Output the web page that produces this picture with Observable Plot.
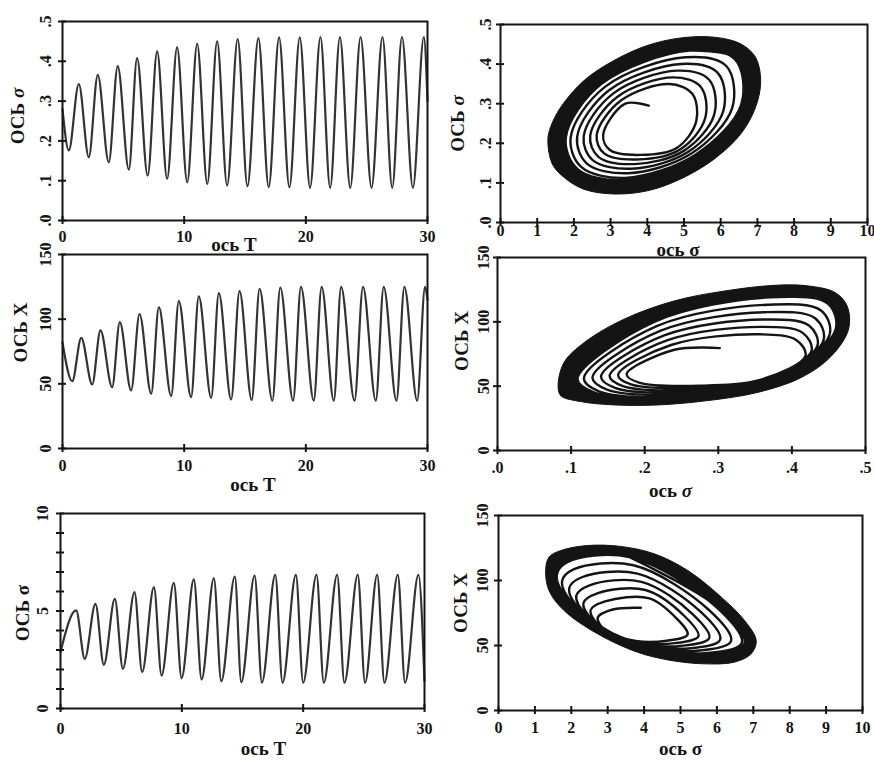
<!DOCTYPE html>
<html><head><meta charset="utf-8">
<script src="https://cdn.jsdelivr.net/npm/d3@7"></script>
<script src="https://cdn.jsdelivr.net/npm/@observablehq/plot@0.6"></script>
<style>
body{margin:0;background:#fff;}
#chart{position:relative;width:874px;height:760px;background:#fff;}
.panel{position:absolute;}
.panel svg{overflow:visible;}
</style></head><body><div id="chart"></div>
<script>
// ---------- time series (extrema) ----------
const tsT1 = [0,0.52,1.34,2.16,2.90,3.80,4.54,5.45,6.13,7.0,7.78,8.6,9.42,10.25,11.07,11.9,12.71,13.53,14.4,15.2,16.1,16.95,17.8,18.65,19.5,20.35,21.2,22.0,22.8,23.65,24.5,25.4,26.3,27.1,27.9,28.8,29.7,30];
const tsSigma = [0.28,0.176,0.343,0.159,0.366,0.146,0.388,0.128,0.408,0.113,0.425,0.105,0.435,0.096,0.444,0.092,0.45,0.088,0.456,0.086,0.458,0.084,0.46,0.083,0.46,0.082,0.461,0.082,0.461,0.082,0.461,0.082,0.461,0.082,0.461,0.082,0.461,0.30];

const tsT2 = [0,0.8,1.54,2.44,3.12,4.08,4.71,5.64,6.33,7.29,7.92,8.93,9.56,10.57,11.2,12.22,12.85,13.86,14.55,15.55,16.2,17.25,17.9,18.95,19.6,20.65,21.3,22.3,22.9,24.0,24.7,25.75,26.4,27.45,28.1,29.15,29.8,30];
const tsX = [82,52,85.6,49.5,91.3,47.4,97.7,44.9,104,42.3,109.3,40.5,114,39.7,117.6,39.2,120.1,37.9,121.7,37.5,123.5,37,124.5,37,125,37,125,37,125,37,125,37,125,37,125,37,125,115];

const tsT3 = [0,1.29,2.0,2.88,3.57,4.48,5.14,6.1,6.73,7.7,8.33,9.34,9.98,10.99,11.63,12.64,13.25,14.37,14.9,16.0,16.6,17.7,18.3,19.4,20.0,21.1,21.7,22.8,23.4,24.5,25.1,26.1,26.7,27.8,28.4,29.5,30];
const tsS = [2.9,5.03,2.55,5.37,2.24,5.62,2.03,5.97,1.86,6.22,1.69,6.44,1.56,6.62,1.49,6.68,1.4,6.77,1.35,6.82,1.33,6.85,1.32,6.85,1.32,6.86,1.32,6.86,1.32,6.86,1.32,6.86,1.32,6.86,1.32,6.86,1.4];

// ---------- phase portraits: spiral turns, 8 points per turn [UL,L,LL,B,LR,R,UR,T]; last row = inner edge of the black band ----------
// top right: x = bold sigma, y = sigma
const trStart = [4.04, 0.295];
const trTurnX = [
 [3.40,2.798,2.981,3.818,4.801,5.333,5.225,4.597],
 [3.289,2.621,2.824,3.733,4.903,5.578,5.458,4.707],
 [3.179,2.444,2.668,3.648,5.005,5.823,5.691,4.818],
 [3.068,2.267,2.511,3.563,5.107,6.068,5.924,4.929],
 [2.957,2.090,2.354,3.478,5.210,6.314,6.158,5.039],
 [2.847,1.913,2.198,3.393,5.312,6.559,6.391,5.15],
 [2.75,1.78,2.10,3.35,5.35,6.62,6.42,5.15]];
const trTurnY = [
 [0.300,0.222,0.1829,0.1707,0.1883,0.2553,0.325,0.3497],
 [0.3085,0.221,0.1744,0.1591,0.1849,0.2638,0.3424,0.3666],
 [0.317,0.2195,0.1659,0.1475,0.1815,0.2723,0.3597,0.3835],
 [0.3255,0.2183,0.1573,0.1359,0.1781,0.2809,0.3771,0.4003],
 [0.334,0.2171,0.1488,0.1244,0.1747,0.2894,0.3945,0.4172],
 [0.3426,0.2159,0.1403,0.1128,0.1713,0.2979,0.4118,0.434],
 [0.350,0.215,0.135,0.107,0.170,0.300,0.414,0.434]];
const trOuterX = [1.29,1.41,1.73,2.27,3.09,4.0,4.91,5.82,6.55,6.95,7.09,6.95,6.55,5.82,4.91,4.0,3.09,2.27,1.64,1.36];
const trOuterY = [0.207,0.148,0.114,0.084,0.072,0.080,0.110,0.160,0.224,0.291,0.358,0.417,0.451,0.468,0.466,0.447,0.409,0.358,0.291,0.240];

// middle right: x = sigma, y = X
const mrStart = [0.302, 79.6];
const mrTurnX = [
 [0.2405,0.1755,0.1923,0.2753,0.3593,0.4185,0.4063,0.3564],
 [0.2358,0.1639,0.1814,0.2707,0.3600,0.4266,0.4147,0.3591],
 [0.2311,0.1523,0.1705,0.2661,0.3607,0.4347,0.4232,0.3618],
 [0.2265,0.1407,0.1596,0.2615,0.3614,0.4428,0.4316,0.3646],
 [0.2218,0.1290,0.1487,0.2569,0.3621,0.4509,0.4400,0.3673],
 [0.2171,0.1174,0.1378,0.2523,0.3627,0.4590,0.4484,0.3700],
 [0.213,0.1087,0.131,0.250,0.363,0.461,0.4495,0.370]];
const mrTurnY = [
 [78.3,59.3,52.7,50.3,55.3,73.6,85.7,90.3],
 [82.0,58.7,51.3,48.7,54.6,77.5,91.4,96.1],
 [85.7,58.0,50.0,47.0,53.9,81.5,97.1,101.8],
 [89.4,57.4,48.7,45.4,53.2,85.4,102.8,107.5],
 [93.1,56.7,47.4,43.8,52.5,89.4,108.6,113.3],
 [96.8,56.1,46.0,42.1,51.8,93.3,114.3,119.0],
 [100.0,55.6,45.2,41.3,51.5,94.3,115.0,119.0]];
const mrOuterX = [0.0823,0.086,0.113,0.159,0.218,0.286,0.354,0.413,0.454,0.477,0.475,0.459,0.4225,0.377,0.309,0.2405,0.172,0.118,0.0905];
const mrOuterY = [50.4,42.6,38.0,35.4,35.4,38.8,45.2,56.8,73.6,94.3,112.4,122.7,127.9,128.4,124.0,116.3,102.1,84.0,68.5];

// bottom right: x = bold sigma, y = X
const brStart = [3.91, 79];
const brTurnX = [
 [3.14,2.726,2.928,3.767,4.623,5.196,4.903,4.145],
 [2.927,2.530,2.759,3.761,4.850,5.494,5.121,4.036],
 [2.715,2.334,2.591,3.754,5.076,5.792,5.339,3.927],
 [2.502,2.138,2.422,3.747,5.302,6.090,5.557,3.818],
 [2.289,1.943,2.254,3.740,5.529,6.388,5.775,3.709],
 [2.076,1.747,2.085,3.733,5.755,6.685,5.993,3.60],
 [1.89,1.60,1.98,3.73,5.84,6.76,6.02,3.60]];
const brTurnY = [
 [77.7,71.5,61.8,53.6,53.7,58.4,70.5,86.3],
 [83.9,77.1,65.6,53.1,51.8,57.2,72.3,92.7],
 [90.1,82.7,69.4,52.6,49.9,55.9,74.0,99.0],
 [96.3,88.4,73.2,52.1,48.0,54.6,75.8,105.3],
 [102.5,94.0,77.1,51.6,46.2,53.4,77.5,111.7],
 [108.7,99.6,80.9,51.1,44.3,52.1,79.3,118.0],
 [114.1,103.8,83.3,50.8,43.6,51.8,79.5,118.0]];
const brOuterX = [1.295,1.386,1.708,2.44,3.36,4.28,5.2,6.12,6.76,7.08,6.94,6.48,5.66,4.74,3.82,2.72,1.80,1.386];
const brOuterY = [107.7,117.9,123,126.9,126.2,120.5,107.7,87.2,69.2,53.8,43.6,37.2,35.9,38.5,44.8,59,76.9,92.3];

// ---------- tick values and labels ----------
const tTicks = [0,10,20,30];
const sigTicks = [0,0.1,0.2,0.3,0.4,0.5];
const xTicksY = [0,50,100,150];
const bsTicks = [0,1,2,3,4,5,6,7,8,9,10];
const bsLabelTicksY = [0,5,10];
const labT = "ось T";
const labSigIt = "ось *σ";
const labSigBold = "ось σ";
const labYSigIt = "ОСЬ *σ";
const labYSigBold = "ОСЬ σ";
const labYX = "ОСЬ X";

// ---------- helpers ----------
const FONT = "'Liberation Serif','DejaVu Serif','Times New Roman',serif";
const INK = "#141414";
const decFmt = d => d.toFixed(1).replace(/^0/, "");
const intFmt = d => String(d);
const zip = (xs, ys) => xs.map((x, i) => ({x, y: ys[i]}));

function spiralPoints(start, tx, ty) {
  const pts = [{x: start[0], y: start[1]}];
  tx.forEach((row, k) => row.forEach((x, j) => pts.push({x, y: ty[k][j]})));
  return pts;
}

function phaseMarks(start, tx, ty, ox, oy) {
  const last = tx.length - 1;
  return [
    Plot.line(zip(ox, oy), {x: "x", y: "y", curve: "catmull-rom-closed", fill: INK, stroke: INK, strokeWidth: 1}),
    Plot.line(zip(tx[last], ty[last]), {x: "x", y: "y", curve: "catmull-rom-closed", fill: "white", stroke: "none"}),
    Plot.line(spiralPoints(start, tx, ty), {x: "x", y: "y", curve: "catmull-rom", stroke: INK, strokeWidth: 2.4})
  ];
}
function seriesMarks(ts, vs) {
  return [Plot.line(zip(ts, vs), {x: "x", y: "y", curve: "monotone-x", stroke: "#333", strokeWidth: 2.2})];
}

function makePanel(c) {
  const [fx0, fy0, fx1, fy1] = c.frame;
  const innerW = fx1 - fx0, innerH = fy1 - fy0;
  const svg = Plot.plot({
    width: c.width, height: c.height,
    marginLeft: fx0 - c.left, marginTop: fy0 - c.top,
    marginRight: c.left + c.width - fx1, marginBottom: c.top + c.height - fy1,
    x: {domain: c.xDomain, axis: null},
    y: {domain: c.yDomain, axis: null},
    style: {fontFamily: FONT, background: "transparent", overflow: "visible", color: INK},
    marks: [
      ...c.marks,
      Plot.frame({stroke: INK, strokeWidth: 2}),
      Plot.tickY(c.yTickMarks, {y: d => d, stroke: INK, strokeWidth: 2, insetLeft: -4, insetRight: innerW - 4}),
      Plot.tickX(c.xTickMarks, {x: d => d, stroke: INK, strokeWidth: 2, insetTop: innerH - 4, insetBottom: -4}),
      Plot.text(c.yTicks, {y: d => d, text: c.yFmt, frameAnchor: "left", dx: c.yLabDx, rotate: -90, textAnchor: "middle", lineAnchor: "middle", fontSize: 16, fontWeight: "bold", fill: INK}),
      Plot.text(c.xTicks, {x: d => d, text: c.xFmt, frameAnchor: "bottom", dy: c.xLabDy, lineAnchor: "middle", fontSize: 16, fontWeight: "bold", fill: INK}),
      Plot.text([c.xTitle], {frameAnchor: "bottom", dx: c.xTitleDx, dy: c.xTitleDy, lineAnchor: "middle", fontSize: 19, fontWeight: "bold", fill: INK}),
      Plot.text([c.yTitle], {frameAnchor: "left", dx: c.yTitleDx, dy: c.yTitleDy, rotate: -90, textAnchor: "middle", lineAnchor: "middle", fontSize: 19, fontWeight: "bold", fill: INK})
    ]
  });
  // italic sigma where marked with '*'
  svg.querySelectorAll("text").forEach(t => {
    const s = t.textContent;
    if (s.includes("*σ")) {
      const [before] = s.split("*σ");
      t.textContent = "";
      t.appendChild(document.createTextNode(before));
      const ts = document.createElementNS("http://www.w3.org/2000/svg", "tspan");
      ts.setAttribute("font-style", "italic");
      ts.textContent = "σ";
      t.appendChild(ts);
    }
  });
  const div = document.createElement("div");
  div.className = "panel";
  div.style.left = c.left + "px";
  div.style.top = c.top + "px";
  div.appendChild(svg);
  document.getElementById("chart").appendChild(div);
}

// ---------- panels ----------
makePanel({left: 0, top: 0, width: 440, height: 252, frame: [62, 21, 427, 220],
  xDomain: [0, 30], yDomain: [0, 0.5], xTicks: tTicks, xTickMarks: tTicks, xFmt: intFmt,
  yTicks: sigTicks, yTickMarks: sigTicks, yFmt: decFmt, yLabDx: -17, xLabDy: 16,
  xTitle: labT, xTitleDx: -11, xTitleDy: 24, yTitle: labYSigIt, yTitleDx: -45, yTitleDy: -5,
  marks: seriesMarks(tsT1, tsSigma)});

makePanel({left: 440, top: 0, width: 434, height: 252, frame: [500, 24, 867, 222],
  xDomain: [0, 10], yDomain: [0, 0.5], xTicks: bsTicks, xTickMarks: bsTicks, xFmt: intFmt,
  yTicks: sigTicks, yTickMarks: sigTicks, yFmt: decFmt, yLabDx: -15, xLabDy: 8,
  xTitle: labSigBold, xTitleDx: -6, xTitleDy: 27, yTitle: labYSigIt, yTitleDx: -43, yTitleDy: 0,
  marks: phaseMarks(trStart, trTurnX, trTurnY, trOuterX, trOuterY)});

makePanel({left: 0, top: 252, width: 440, height: 250, frame: [62, 254, 427, 448],
  xDomain: [0, 30], yDomain: [0, 150], xTicks: tTicks, xTickMarks: tTicks, xFmt: intFmt,
  yTicks: xTicksY, yTickMarks: xTicksY, yFmt: intFmt, yLabDx: -17, xLabDy: 17,
  xTitle: labT, xTitleDx: 8, xTitleDy: 36, yTitle: labYX, yTitleDx: -42, yTitleDy: -19,
  marks: seriesMarks(tsT2, tsX)});

makePanel({left: 440, top: 252, width: 434, height: 250, frame: [497, 257, 865, 450],
  xDomain: [0, 0.5], yDomain: [0, 150], xTicks: sigTicks, xTickMarks: sigTicks, xFmt: decFmt,
  yTicks: xTicksY, yTickMarks: xTicksY, yFmt: intFmt, yLabDx: -14, xLabDy: 17,
  xTitle: labSigIt, xTitleDx: -11, xTitleDy: 40, yTitle: labYX, yTitleDx: -36, yTitleDy: -13,
  marks: phaseMarks(mrStart, mrTurnX, mrTurnY, mrOuterX, mrOuterY)});

makePanel({left: 0, top: 502, width: 440, height: 258, frame: [60, 513, 424, 708],
  xDomain: [0, 30], yDomain: [0, 10], xTicks: tTicks, xTickMarks: tTicks, xFmt: intFmt,
  yTicks: bsLabelTicksY, yTickMarks: bsTicks, yFmt: intFmt, yLabDx: -18, xLabDy: 20,
  xTitle: labT, xTitleDx: 21, xTitleDy: 40, yTitle: labYSigBold, yTitleDx: -38, yTitleDy: 2,
  marks: seriesMarks(tsT3, tsS)});

makePanel({left: 440, top: 502, width: 434, height: 258, frame: [498, 515, 862, 710],
  xDomain: [0, 10], yDomain: [0, 150], xTicks: bsTicks, xTickMarks: bsTicks, xFmt: intFmt,
  yTicks: xTicksY, yTickMarks: xTicksY, yFmt: intFmt, yLabDx: -16, xLabDy: 17,
  xTitle: labSigBold, xTitleDx: 0, xTitleDy: 38, yTitle: labYX, yTitleDx: -38, yTitleDy: -10,
  marks: phaseMarks(brStart, brTurnX, brTurnY, brOuterX, brOuterY)});
</script></body></html>
